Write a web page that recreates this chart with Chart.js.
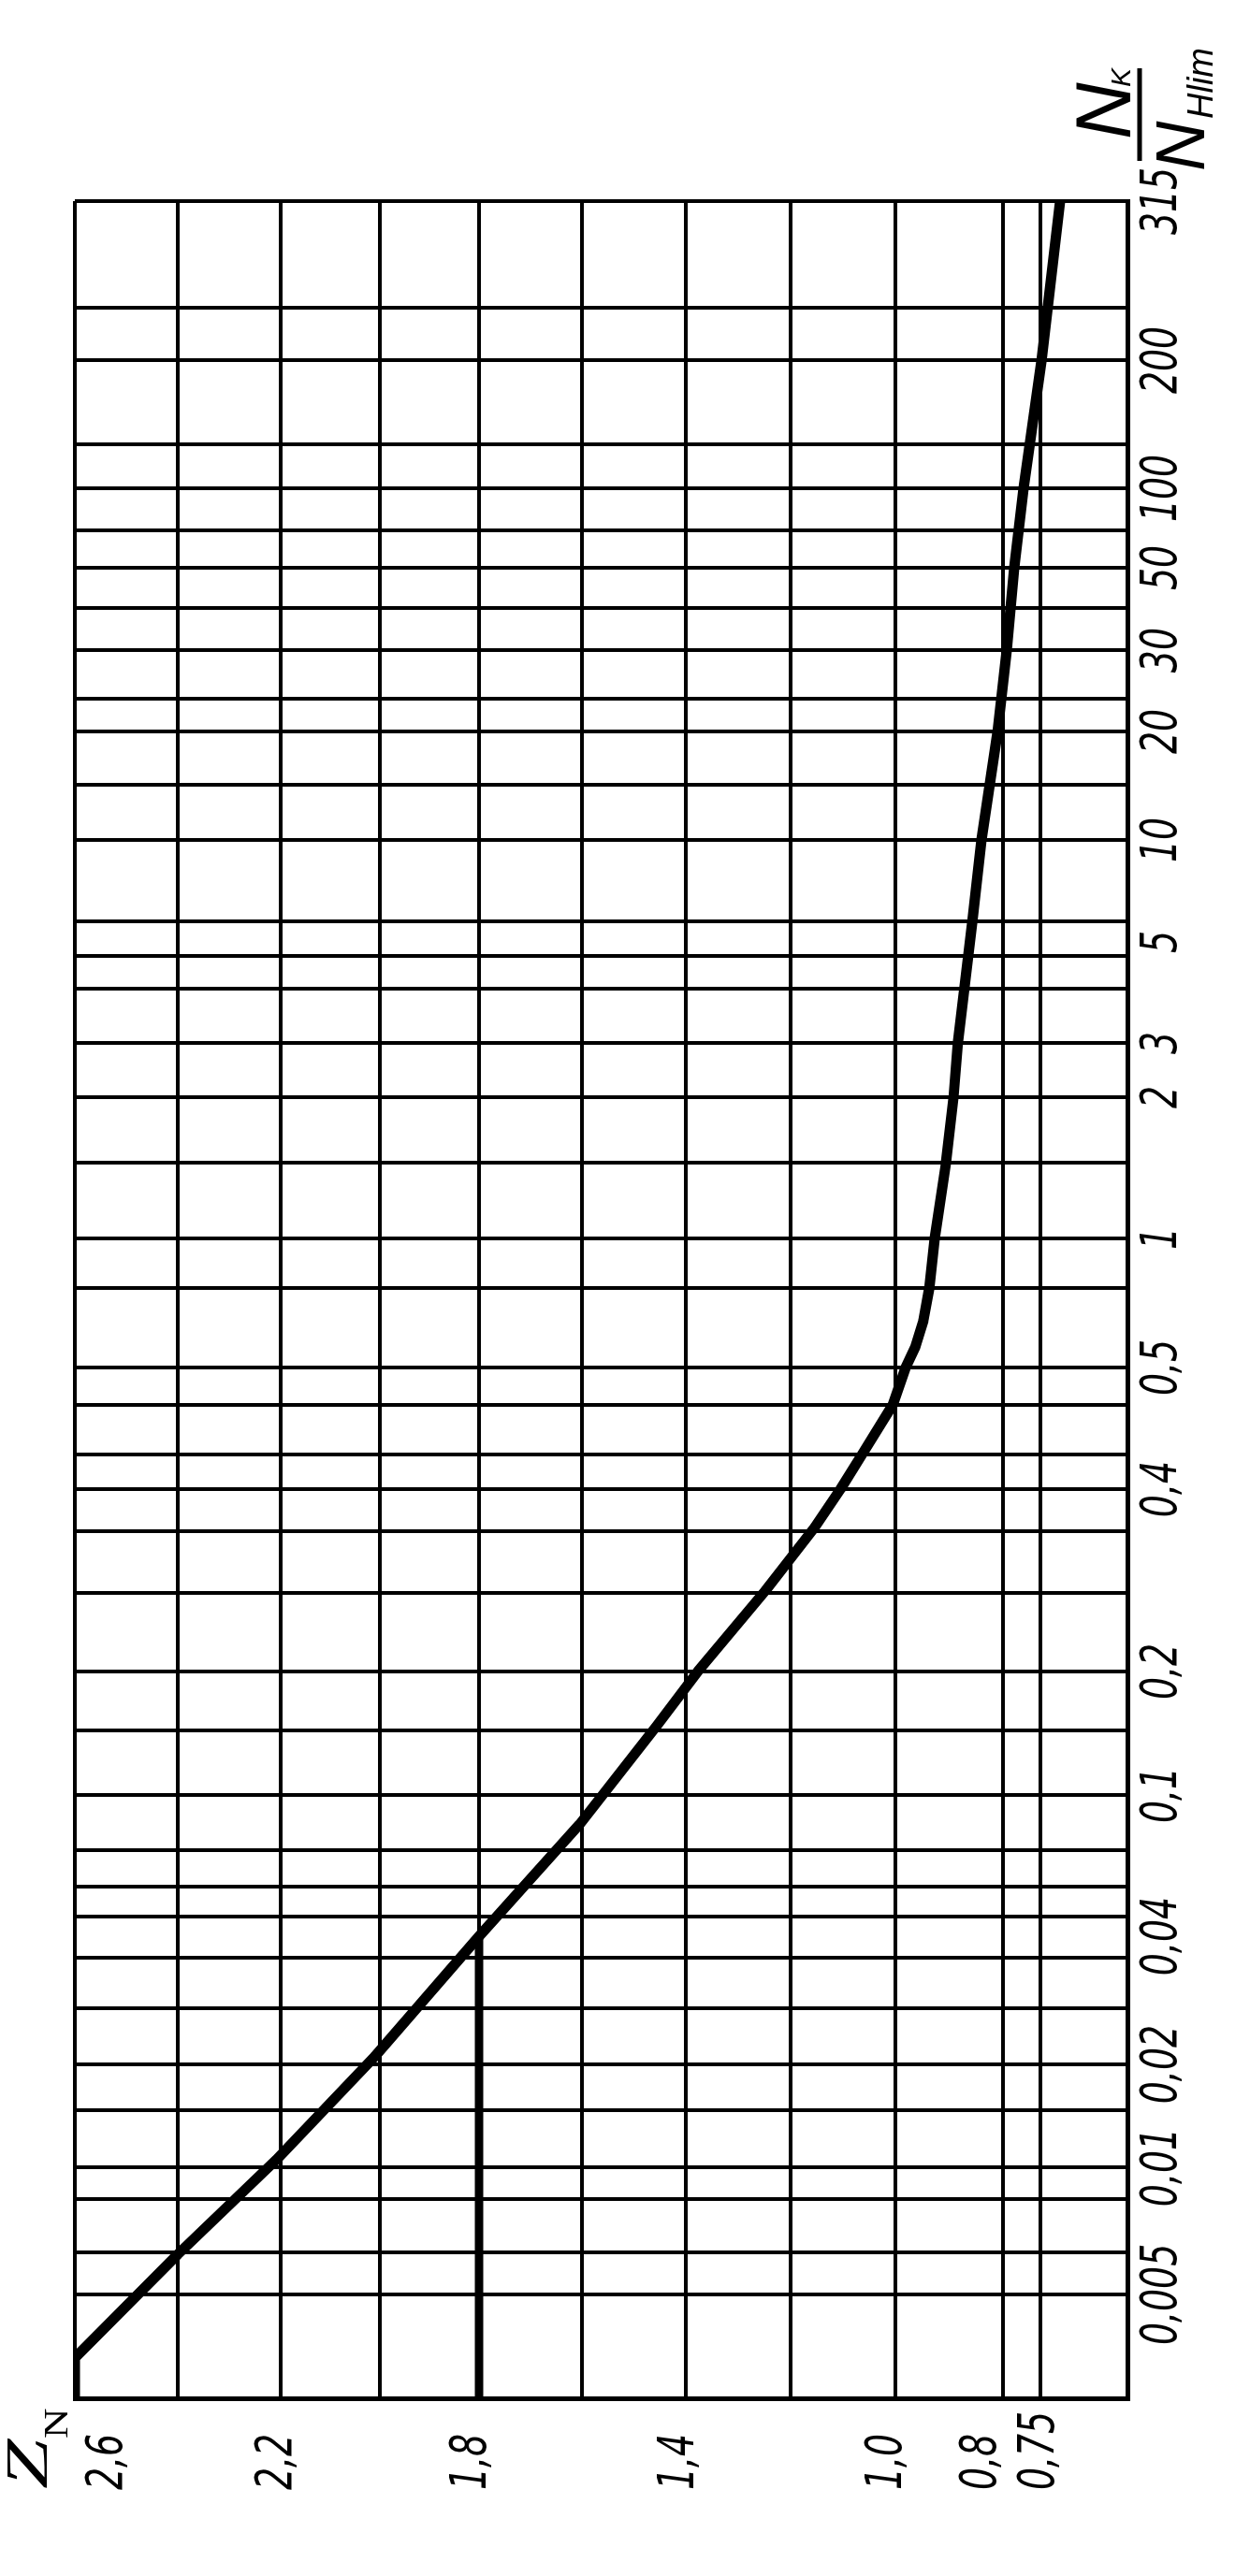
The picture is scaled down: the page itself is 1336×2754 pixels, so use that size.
<!DOCTYPE html>
<html>
<head>
<meta charset="utf-8">
<title>Z_N</title>
<script src="https://cdn.jsdelivr.net/npm/chart.js@4.4.1/dist/chart.umd.min.js"></script>
<style>
  html, body { margin: 0; padding: 0; background: #fff; }
  #page { position: relative; width: 1336px; height: 2754px; overflow: hidden; background: #fff; }
  /* the printed chart is turned a quarter turn, so the canvas is drawn upright and rotated */
  #chart { position: absolute; left: 0; top: 0; transform-origin: 0 0; transform: translateY(2754px) rotate(-90deg); }
</style>
</head>
<body>
<div id="page"><canvas id="chart" width="2754" height="1336"></canvas></div>
<script>
// N_K / N_Hlim, values of the drawn grid lines
const nGridLines = [0.003, 0.005, 0.0063, 0.0084, 0.01, 0.0147, 0.02, 0.0271, 0.0356, 0.0454, 0.0551, 0.0699,
    0.1, 0.144, 0.2, 0.27, 0.341, 0.4, 0.426, 0.467, 0.5, 0.766, 1, 1.45, 2, 3, 3.95, 4.66, 5.75,
    10, 14.2, 20, 23.5, 30, 39, 50, 69, 100, 127, 200, 232, 315];
const nTickValues = [0.005, 0.01, 0.02, 0.04, 0.1, 0.2, 0.4, 0.5, 1, 2, 3, 5, 10, 20, 30, 50, 100, 200, 315];
const nTickLabels = ["0,005", "0,01", "0,02", "0,04", "0,1", "0,2", "0,4", "0,5", "1", "2", "3", "5",
    "10", "20", "30", "50", "100", "200", "315"];

// Z_N
const zGridLines = [0.6, 0.75, 0.8, 1.0, 1.2, 1.4, 1.6, 1.8, 2.0, 2.2, 2.4, 2.6];
const zTickValues = [2.6, 2.2, 1.8, 1.4, 1.0, 0.8, 0.75];
const zTickLabels = ["2,6", "2,2", "1,8", "1,4", "1,0", "0,8", "0,75"];

// main curve
const curveN = [0.003, 0.00367, 0.00622, 0.01065, 0.0209, 0.04, 0.0828, 0.1475, 0.2, 0.272, 0.346, 0.4,
    0.426, 0.467, 0.5, 0.558, 0.643, 0.766, 1, 1.45, 2, 3, 5.75, 10, 20, 30, 50, 100, 200, 315];
const curveZ = [2.6, 2.6, 2.4, 2.205, 2.01, 1.8, 1.605, 1.456, 1.377, 1.248, 1.154, 1.105,
    1.064, 1.005, 0.981, 0.963, 0.948, 0.937, 0.927, 0.906, 0.892, 0.884, 0.857, 0.84, 0.81, 0.795, 0.785, 0.7725, 0.748, 0.716];

// flat branch at 1,8
const flatN = [0.003, 0.04];
const flatZ = [1.8, 1.8];

// the axes are hand drawn: share of the plot length at which each value sits
const AXIS_STOPS = {
    x: {
        log: true,
        values: [0.003, 0.005, 0.01, 0.02, 0.04, 0.1, 0.2, 0.4, 0.5, 1, 2, 3, 5, 10, 20, 30, 50, 100, 200, 315],
        at: [0, 0.0477, 0.1055, 0.1523, 0.2106, 0.2749, 0.3311, 0.414, 0.4694, 0.5281, 0.5923, 0.617, 0.663,
            0.7094, 0.7587, 0.7957, 0.8332, 0.8694, 0.9277, 1],
        grid: nGridLines,
    },
    y: {
        log: false,
        values: [0.6, 0.75, 0.8, 1.0, 1.4, 1.8, 2.2, 2.6],
        at: [0, 0.0827, 0.1182, 0.2204, 0.4196, 0.616, 0.8044, 1],
        grid: zGridLines,
    },
};

const Z_LABEL_NUDGE = [36, -3, -7, -6, -8, -22, 0];
const LABEL_FONT = 'italic 54px "DejaVu Sans", sans-serif';
const LABEL_SQUEEZE = 0.7;

function toDecimal(stops, value) {
    const f = stops.log ? Math.log10 : (v) => v;
    const t = f(value);
    const vs = stops.values.map(f);
    let i = 1;
    while (i < vs.length - 1 && t > vs[i]) i++;
    const k = (t - vs[i - 1]) / (vs[i] - vs[i - 1]);
    return stops.at[i - 1] + k * (stops.at[i] - stops.at[i - 1]);
}

function fromDecimal(stops, d) {
    const f = stops.log ? Math.log10 : (v) => v;
    const vs = stops.values.map(f);
    let i = 1;
    while (i < vs.length - 1 && d > stops.at[i]) i++;
    const k = (d - stops.at[i - 1]) / (stops.at[i] - stops.at[i - 1]);
    const t = vs[i - 1] + k * (vs[i] - vs[i - 1]);
    return stops.log ? Math.pow(10, t) : t;
}

class CalibratedScale extends Chart.LinearScale {
    static id = "calibrated";
    static defaults = {};

    buildTicks() {
        return AXIS_STOPS[this.id].grid.map((value) => ({ value }));
    }

    getPixelForValue(value) {
        return this.getPixelForDecimal(toDecimal(AXIS_STOPS[this.id], value));
    }

    getValueForPixel(pixel) {
        return fromDecimal(AXIS_STOPS[this.id], this.getDecimalForPixel(pixel));
    }
}
Chart.register(CalibratedScale);

function narrowText(ctx, text, x, y, squeeze) {
    ctx.save();
    ctx.translate(x, y);
    ctx.scale(squeeze, 1);
    ctx.fillText(text, 0, 0);
    ctx.restore();
}

const axisText = {
    id: "axisText",
    afterDraw(chart) {
        const { ctx, chartArea, scales } = chart;
        ctx.save();
        ctx.fillStyle = "#000";
        ctx.strokeStyle = "#000";

        ctx.font = LABEL_FONT;
        ctx.textBaseline = "middle";
        ctx.textAlign = "center";
        nTickValues.forEach((v, i) => {
            narrowText(ctx, nTickLabels[i], scales.x.getPixelForValue(v), chartArea.bottom + 38, LABEL_SQUEEZE);
        });

        ctx.textAlign = "left";
        zTickValues.forEach((v, i) => {
            narrowText(ctx, zTickLabels[i], chartArea.left - 97,
                scales.y.getPixelForValue(v) + Z_LABEL_NUDGE[i], LABEL_SQUEEZE);
        });

        // Z_N
        ctx.textBaseline = "alphabetic";
        ctx.font = 'italic 64px "Liberation Serif", serif';
        narrowText(ctx, "Z", chartArea.left - 96, 50, 1.5);
        ctx.font = '36px "Liberation Serif", serif';
        narrowText(ctx, "N", chartArea.left - 42, 72, 1.25);

        // N_K / N_Hlim
        const fx = chartArea.right;
        ctx.font = 'italic 84px "Liberation Sans", sans-serif';
        ctx.fillText("N", fx + 66, 1208);
        ctx.font = 'italic 30px "Liberation Sans", sans-serif';
        ctx.fillText("K", fx + 122, 1208);
        ctx.lineWidth = 5;
        ctx.beginPath();
        ctx.moveTo(fx + 43, 1218);
        ctx.lineTo(fx + 142, 1218);
        ctx.stroke();
        ctx.font = 'italic 74px "Liberation Sans", sans-serif';
        ctx.fillText("N", fx + 32, 1287);
        ctx.font = 'italic 38px "Liberation Sans", sans-serif';
        ctx.fillText("Hlim", fx + 88, 1296);
        ctx.restore();
    },
};

new Chart(document.getElementById("chart"), {
    type: "line",
    data: {
        datasets: [
            {
                data: curveN.map((n, i) => ({ x: n, y: curveZ[i] })),
                borderColor: "#000",
                borderWidth: 11,
                pointRadius: 0,
                tension: 0,
                borderCapStyle: "round",
                borderJoinStyle: "round",
            },
            {
                data: flatN.map((n, i) => ({ x: n, y: flatZ[i] })),
                borderColor: "#000",
                borderWidth: 9,
                pointRadius: 0,
            },
        ],
    },
    options: {
        responsive: false,
        animation: false,
        events: [],
        layout: {
            padding: { left: 189, right: 215, top: 80, bottom: 131 },
        },
        plugins: {
            legend: { display: false },
            tooltip: { enabled: false },
        },
        scales: {
            x: {
                type: "calibrated",
                position: "bottom",
                min: 0.003,
                max: 315,
                grid: { color: "#000", lineWidth: 4, drawTicks: false },
                border: { color: "#000", width: 5 },
                ticks: { display: false, autoSkip: false },
            },
            y: {
                type: "calibrated",
                position: "left",
                min: 0.6,
                max: 2.6,
                grid: { color: "#000", lineWidth: 4, drawTicks: false },
                border: { color: "#000", width: 5 },
                ticks: { display: false, autoSkip: false },
            },
        },
    },
    plugins: [axisText],
});
</script>
</body>
</html>
